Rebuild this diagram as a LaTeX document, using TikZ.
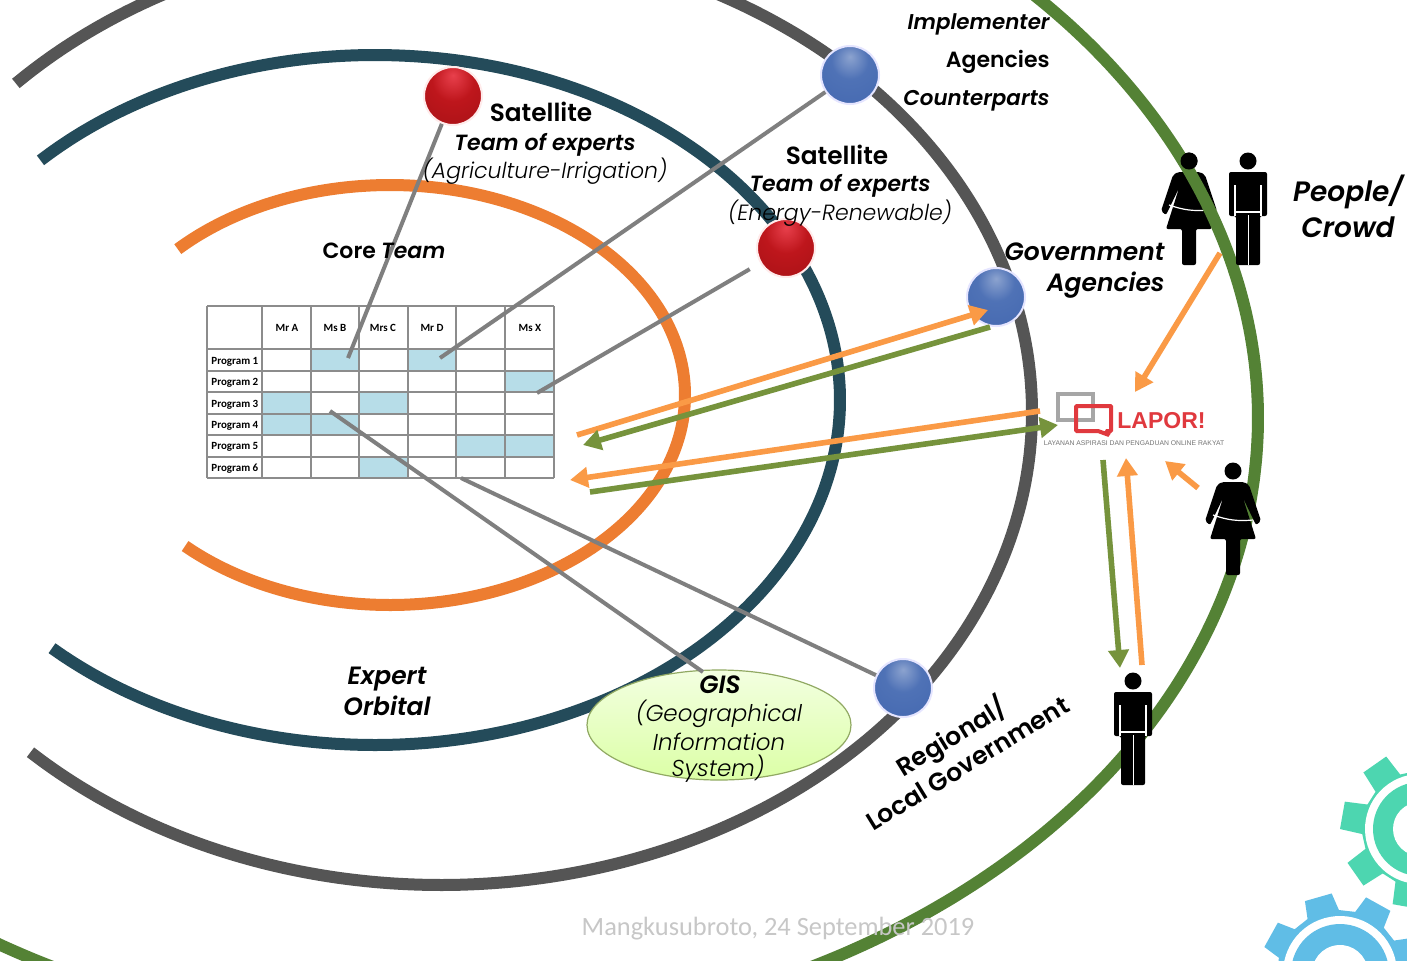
\documentclass[tikz,border=0pt]{standalone}
\usepackage{fontspec}
\setmainfont{Poppins}[BoldFont={* SemiBold},BoldItalicFont={* SemiBold Italic},ItalicFont={* Light Italic}]
\newfontfamily\tablefont{Carlito}
\newfontfamily\logofont{Liberation Sans}
\usetikzlibrary{arrows.meta,shapes.geometric}
\definecolor{coreorange}{HTML}{ED7D31}
\definecolor{expertteal}{HTML}{244B5A}
\definecolor{agencygrey}{HTML}{555555}
\definecolor{crowdgreen}{HTML}{548235}
\definecolor{linkgrey}{HTML}{7F7F7F}
\definecolor{flowyellow}{HTML}{FA9A46}
\definecolor{flowgreen}{HTML}{76933C}
\definecolor{cellblue}{HTML}{B7DDE8}
\definecolor{gearmint}{HTML}{4DD6B0}
\definecolor{gearblue}{HTML}{60BDE6}
\definecolor{laporred}{HTML}{E0393E}
\definecolor{bluetop}{HTML}{8CA3CF}
\definecolor{bluemid}{HTML}{4F72B6}
\definecolor{blueend}{HTML}{4468B0}
\definecolor{redtop}{HTML}{E8404C}
\definecolor{redmid}{HTML}{BE161C}
\definecolor{redend}{HTML}{A81216}
\pgfdeclareradialshading{bluesphere}{\pgfpoint{0bp}{16bp}}{color(0bp)=(bluetop);color(16bp)=(bluemid);color(42bp)=(blueend);color(60bp)=(bluemid);color(72bp)=(bluemid)}
\pgfdeclareradialshading{redsphere}{\pgfpoint{0bp}{18bp}}{color(0bp)=(redtop);color(18bp)=(redmid);color(42bp)=(redend);color(60bp)=(redmid);color(72bp)=(redmid)}
\tikzset{
  orbit/.style={line width=6pt,variable=\t,samples=160,smooth},
  link/.style={draw=linkgrey,line width=2pt},
  flowa/.style={draw=flowyellow,fill=flowyellow,line width=2.8pt,-{Triangle[length=9pt,width=10pt]}},
  flowb/.style={draw=flowgreen,fill=flowgreen,line width=2.8pt,-{Triangle[length=9pt,width=10pt]}},
  bluepoint/.style={circle,shading=bluesphere,draw=white!90!blue,line width=1pt,minimum size=29pt,inner sep=0pt},
  redpoint/.style={circle,shading=redsphere,draw=white!92!red,line width=1pt,minimum size=29pt,inner sep=0pt},
  heading/.style={font=\bfseries\fontsize{12.4}{15}\selectfont,align=center,inner sep=0pt},
  subhead/.style={font=\bfseries\itshape\fontsize{11}{14}\selectfont,inner sep=0pt},
  detail/.style={font=\itshape\fontsize{11}{14}\selectfont,inner sep=0pt},
  boldit/.style={font=\bfseries\itshape\fontsize{12.5}{15.5}\selectfont,align=center,inner sep=0pt},
  upper/.style={font=\bfseries\itshape\fontsize{10.7}{13}\selectfont,inner sep=0pt},
  cell/.style={font=\tablefont\bfseries\fontsize{5.5}{6.5}\selectfont,inner sep=0pt},
  man/.pic={
    \fill (0,0) circle (8.5);
    \fill[rounded corners=1pt] (-19,11) -- (19,11) -- (19,55) -- (12,55) -- (12,104) -- (-12,104) -- (-12,55) -- (-19,55) -- cycle;
    \draw[white,line width=.6pt] (-13,24) -- (-13,55) (13,24) -- (13,55) (-12,51) -- (12,51) (0.5,54) -- (0.5,104);
  },
  woman/.pic={
    \fill (0,0) circle (8.5);
    \fill[rounded corners=1pt] (-11,11) -- (11,11) -- (16,14) -- (28,50) -- (23,54) -- (10,27) -- (23,68) -- (7,68) -- (7,104) -- (-7,104) -- (-7,68) -- (-23,68) -- (-10,27) -- (-23,54) -- (-28,50) -- (-16,14) -- cycle;
    \draw[white,line width=.6pt] (-20,44) to[bend right=12] (20,49);
  },
}
\newcommand{\gearwheel}[8]{% centre, turn, colour, outer, body, ring out, ring in, hole
  \begin{scope}[shift={#1},rotate=#2]
    \fill[#3] (-15:#5) \foreach \a in {0,45,...,315} { -- ({\a-15}:#5) -- ({\a-10}:#4) -- ({\a+10}:#4) -- ({\a+15}:#5) } -- cycle;
    \fill[white] (0,0) circle (#6);
    \fill[#3] (0,0) circle (#7);
    \fill[white] (0,0) circle (#8);
  \end{scope}
}
\begin{document}
\begin{tikzpicture}[x=0.5pt,y=-0.5pt]
\useasboundingbox (0,0) rectangle (1407,960);
\clip (0,0) rectangle (1407,960);
\fill[white] (0,0) rectangle (1407,960);

% gears
\gearwheel{(1420,829)}{35}{gearmint}{80}{58}{55}{47}{27}
\gearwheel{(1340,973)}{16}{gearblue}{80}{63}{57}{49}{28}

% orbits
\draw[orbit,coreorange,domain=-136:134] plot ({390+295*cos(\t)},{395+210*sin(\t)});
\draw[orbit,expertteal,domain=-136:134] plot ({375+465*cos(\t)},{400+345*sin(\t)});
\draw[orbit,agencygrey,domain=-136:134] plot ({441+591*cos(\t)},{412+473*sin(\t)});
\pic (woman1) at (1189,161) {woman};
\draw[orbit,crowdgreen,domain=-180:180] plot ({432+826*cos(\t)},{418+618*sin(\t)});
\fill (1189,161) circle (8.5);
\pic (man1) at (1248,161) {man};
\pic (woman2) at (1233,471) {woman};
\pic (man2) at (1133,681) {man};

% table
\foreach \c/\r in {1/1,3/1,5/2,0/3,2/3,0/4,1/4,4/5,5/5,2/6}
  \fill[cellblue] ({262+48.6*\c},{349+21.5*(\r-1)}) rectangle ++(48.6,21.5);
\foreach \x in {207,262,311,359,408,456,505,554}
  \draw[linkgrey!90!white,line width=1.2pt] (\x,306) -- (\x,478);
\foreach \y in {306,349,371,392,414,435,457,478}
  \draw[linkgrey!90!white,line width=1.2pt] (207,\y) -- (554,\y);
\foreach \n/\x/\t in {a/287/Mr A,b/335/Ms B,c/383/Mrs C,d/432/Mr D,x/530/Ms X}
  \node[cell] (head\n) at (\x,328) {\t};
\foreach \r/\y in {1/362,2/383,3/405,4/426,5/447,6/469}
  \node[cell,anchor=west] (prog\r) at (211,\y) {Program \r};

% points
\node[redpoint] (red1) at (453,96) {};
\node[redpoint] (red2) at (786,248) {};
\node[bluepoint] (blue1) at (850,75) {};
\node[bluepoint] (blue2) at (996,297) {};
\node[bluepoint] (blue3) at (903,688) {};
\node[ellipse,draw=flowgreen!80!white,top color=green!40!yellow!12!white,bottom color=green!40!yellow!35!white,line width=.6pt,minimum width=132pt,minimum height=55pt,inner sep=0pt] (gisarea) at (719,725) {};

% links to table
\coordinate (cellb) at (348,358);
\coordinate (celld) at (440,358);
\coordinate (cellx) at (537,393);
\coordinate (cellg) at (330,411);
\coordinate (celll) at (461,478);
\coordinate (gistop) at (703,672);
\draw[link] (red1) -- (cellb);
\draw[link] (blue1) -- (celld);
\draw[link,shorten <=6pt] (red2) -- (cellx);
\draw[link] (gistop) -- (cellg);
\draw[link] (blue3) -- (celll);

% texts
\node[heading] (sat1) at (541,112) {Satellite};
\node[subhead] (team1) at (545,145) {Team of experts};
\node[detail] (field1) at (545,171) {(Agriculture-Irrigation)};
\node[heading] (sat2) at (837,155) {Satellite};
\node[subhead] (team2) at (840,186) {Team of experts};
\node[detail] (field2) at (840,213) {(Energy-Renewable)};
\node[heading,font=\bfseries\fontsize{11}{14}\selectfont] (core) at (384,251) {Core \textit{\bfseries Team}};
\node[upper,anchor=east] (impl) at (1050,24) {Implementer};
\node[upper,anchor=east,font=\bfseries\fontsize{11}{13}\selectfont] (agen) at (1050,62) {Agencies};
\node[upper,anchor=east] (coun) at (1050,101) {Counterparts};
\node[boldit,align=right,anchor=east] (gov) at (1165,271) {Government\\Agencies};
\node[boldit,font=\bfseries\itshape\fontsize{14}{18}\selectfont] (crowd) at (1348,206) {People/\\Crowd};
\node[boldit] (orbitname) at (387,691) {Expert\\Orbital};
\node[boldit] (gisname) at (720,685) {GIS};
\node[detail,font=\itshape\fontsize{11.5}{14}\selectfont] (gisa) at (719,714) {(Geographical};
\node[detail,font=\itshape\fontsize{11.5}{14}\selectfont] (gisb) at (719,742) {Information};
\node[detail,font=\itshape\fontsize{11.5}{14}\selectfont] (gisc) at (718,769) {System)};
\node[heading,font=\bfseries\fontsize{12.5}{15.5}\selectfont,rotate=31.5] (region) at (958,748) {Regional/\\Local Government};
\node[inner sep=0pt,text=black!22,font=\tablefont\fontsize{13.2}{15}\selectfont] (stamp) at (778,929) {Mangkusubroto, 24 September 2019};

% lapor logo
\draw[black!35,line width=2.2pt] (1058,394) rectangle (1093,420);
\draw[laporred,line width=2pt,line join=bevel] (1076,406) -- (1111,406) -- (1111,431) -- (1106,431) -- (1109,435) -- (1098,431) -- (1076,431) -- cycle;
\node[anchor=west,inner sep=0pt,text=laporred,font=\logofont\bfseries\fontsize{11.5}{13}\selectfont] (lapor) at (1117,421) {LAPOR!};
\node[inner sep=0pt,text=black!55,font=\logofont\fontsize{3.4}{4}\selectfont] (slogan) at (1134,443) {LAYANAN ASPIRASI DAN PENGADUAN ONLINE RAKYAT};

% flows
\coordinate (fa1) at (577,435);
\coordinate (fa2) at (988,310);
\coordinate (fb1) at (990,327);
\coordinate (fb2) at (583,445);
\coordinate (fa3) at (1040,411);
\coordinate (fa4) at (570,480);
\coordinate (fb3) at (590,492);
\coordinate (fb4) at (1058,425);
\coordinate (fa5) at (1220,253);
\coordinate (fa6) at (1135,392);
\coordinate (fa7) at (1198,488);
\coordinate (fa8) at (1165,461);
\coordinate (fb5) at (1103,460);
\coordinate (fb6) at (1120,668);
\coordinate (fa9) at (1142,665);
\coordinate (fa10) at (1126,458);
\draw[flowa] (fa1) -- (fa2);
\draw[flowb] (fb1) -- (fb2);
\draw[flowa] (fa3) -- (fa4);
\draw[flowb] (fb3) -- (fb4);
\draw[flowa] (fa5) -- (fa6);
\draw[flowa] (fa7) -- (fa8);
\draw[flowb] (fb5) -- (fb6);
\draw[flowa] (fa9) -- (fa10);
\end{tikzpicture}
\end{document}
